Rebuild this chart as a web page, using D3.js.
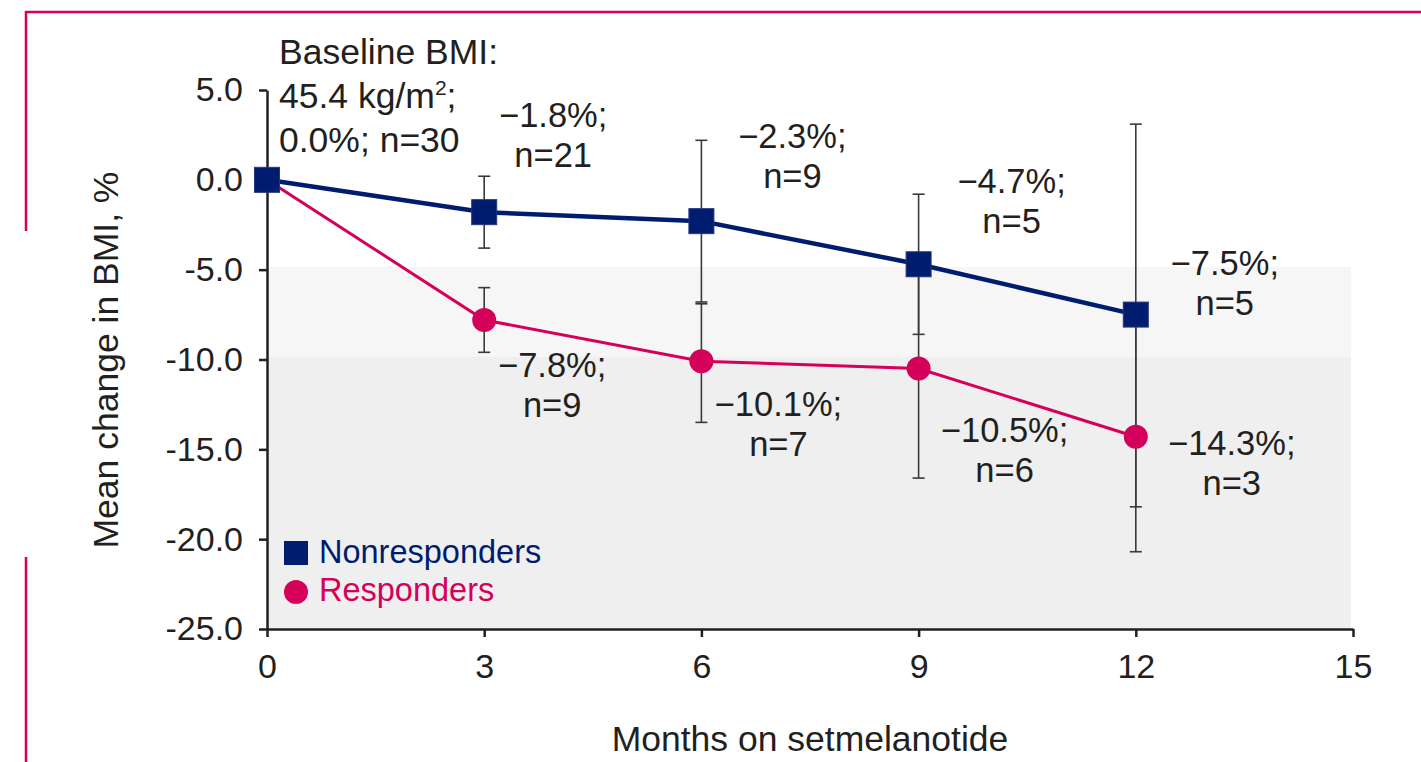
<!DOCTYPE html>
<meta charset="utf-8">
<style>
body { margin: 0; background: #fff; }
svg text { font-family: "Liberation Sans", Arial, Helvetica, sans-serif; fill: #231f20; }
.axis path, .axis line { stroke: #231f20; stroke-width: 2.5; fill: none; }
.axis text { font-size: 34px; }
.err { stroke: #3a3a3a; stroke-width: 1.6; fill: none; }
.lbl { font-size: 34.5px; text-anchor: middle; }
</style>
<body>
<script src="https://cdn.jsdelivr.net/npm/d3@7"></script>
<script>
// data
var months = [0, 3, 6, 9, 12];
var nonresp = [0.0, -1.8, -2.3, -4.7, -7.5];
var nonrespHi = [null, 0.2, 2.2, -0.8, 3.1];
var nonrespLo = [null, -3.8, -6.8, -8.6, -18.2];
var resp = [0.0, -7.8, -10.1, -10.5, -14.3];
var respHi = [null, -6.0, -6.9, -4.4, -7.9];
var respLo = [null, -9.6, -13.5, -16.6, -20.7];
var nonrespN = [30, 21, 9, 5, 5];
var respN = [30, 9, 7, 6, 3];
var yTicks = [5, 0, -5, -10, -15, -20, -25];
var xTicks = [0, 3, 6, 9, 12, 15];
var bandEdges = [-4.85, -9.85, -25];

// label offsets (px) from each point
var nonrespOff = [null, [69, -85], [91, -73], [93, -71], [89, -40]];
var respOff = [null, [68, 57], [77, 55], [86, 74], [96, 18]];

var navy = "#001c6f", pink = "#d5005a";

var W = 1421, H = 762;
var svg = d3.select("body").append("svg")
    .attr("width", W)
    .attr("height", H);

// pink frame lines
svg.append("path")
    .attr("d", "M26,231V12H1421")
    .attr("fill", "none").attr("stroke", pink).attr("stroke-width", 2.5);
svg.append("path")
    .attr("d", "M26,557V762")
    .attr("fill", "none").attr("stroke", pink).attr("stroke-width", 2.5);

var x = d3.scaleLinear().domain([0, 15]).range([267, 1353]);
var y = d3.scaleLinear().domain([-25, 5]).range([629, 90]);

// shaded bands
svg.append("rect")
    .attr("x", x(0)).attr("width", 1351 - x(0))
    .attr("y", y(bandEdges[0])).attr("height", y(bandEdges[1]) - y(bandEdges[0]))
    .attr("fill", "#f6f6f6");
svg.append("rect")
    .attr("x", x(0)).attr("width", 1351 - x(0))
    .attr("y", y(bandEdges[1])).attr("height", y(bandEdges[2]) - y(bandEdges[1]))
    .attr("fill", "#efefef");

// axes
svg.append("g")
    .attr("class", "axis")
    .attr("transform", "translate(0," + y(-25) + ")")
    .call(d3.axisBottom(x).tickValues(xTicks).tickFormat(d3.format("d"))
      .tickSize(8).tickSizeOuter(0).tickPadding(17));
svg.append("g")
    .attr("class", "axis")
    .attr("transform", "translate(" + x(0) + ",0)")
    .call(d3.axisLeft(y).tickValues(yTicks).tickFormat(function(d) { return d.toFixed(1); })
      .tickSize(8).tickSizeOuter(0).tickPadding(16));

// error bars
function errorBars(hi, lo, cls) {
  var idx = months.map(function(d, i) { return i; }).filter(function(i) { return hi[i] !== null; });
  var g = svg.append("g").attr("class", cls);
  idx.forEach(function(i) {
    var cx = x(months[i]);
    g.append("line").attr("class", "err")
      .attr("x1", cx).attr("x2", cx).attr("y1", y(hi[i])).attr("y2", y(lo[i]));
    [hi[i], lo[i]].forEach(function(v) {
      g.append("line").attr("class", "err")
        .attr("x1", cx - 6).attr("x2", cx + 6).attr("y1", y(v)).attr("y2", y(v));
    });
  });
}
errorBars(nonrespHi, nonrespLo, "eb-nr");
errorBars(respHi, respLo, "eb-r");

// lines
var line = d3.line()
    .x(function(d, i) { return x(months[i]); })
    .y(function(d) { return y(d); });
svg.append("path").datum(resp)
    .attr("d", line).attr("fill", "none").attr("stroke", pink).attr("stroke-width", 3);
svg.append("path").datum(nonresp)
    .attr("d", line).attr("fill", "none").attr("stroke", navy).attr("stroke-width", 4.5);

// markers
svg.selectAll(".dot").data(resp.slice(1))
  .enter().append("circle")
    .attr("class", "dot")
    .attr("cx", function(d, i) { return x(months[i + 1]); })
    .attr("cy", function(d) { return y(d); })
    .attr("r", 12)
    .attr("fill", pink);
svg.selectAll(".sq").data(nonresp)
  .enter().append("rect")
    .attr("class", "sq")
    .attr("x", function(d, i) { return x(months[i]) - 12.5; })
    .attr("y", function(d) { return y(d) - 12.5; })
    .attr("width", 25).attr("height", 25)
    .attr("fill", navy).attr("stroke", "#24367f").attr("stroke-width", 1);

// value labels
function fmt(v) { return "\u2212" + Math.abs(v).toFixed(1) + "%;"; }
function labels(vals, ns, off) {
  vals.forEach(function(v, i) {
    if (!off[i]) return;
    var t = svg.append("text").attr("class", "lbl")
        .attr("x", x(months[i]) + off[i][0])
        .attr("y", y(v) + off[i][1]);
    t.append("tspan").attr("x", x(months[i]) + off[i][0]).text(fmt(v));
    t.append("tspan").attr("x", x(months[i]) + off[i][0]).attr("dy", 40).text("n=" + ns[i]);
  });
}
labels(nonresp, nonrespN, nonrespOff);
labels(resp, respN, respOff);

// baseline label
var bl = svg.append("text")
    .attr("x", x(0) + 12).attr("y", y(0) - 116)
    .style("font-size", "35.5px");
bl.append("tspan").attr("x", x(0) + 12).text("Baseline BMI:");
bl.append("tspan").attr("x", x(0) + 12).attr("dy", 44).text("45.4 kg/m");
bl.append("tspan").attr("dy", -13).style("font-size", "21px").text("2");
bl.append("tspan").attr("dy", 13).text(";");
bl.append("tspan").attr("x", x(0) + 12).attr("dy", 44).text(nonresp[0].toFixed(1) + "%; n=" + nonrespN[0]);

// legend
var leg = svg.append("g").attr("transform", "translate(284,541)");
leg.append("rect").attr("width", 24).attr("height", 24).attr("fill", navy);
leg.append("text").attr("x", 35).attr("y", 22)
    .style("font-size", "32.5px").style("fill", navy).text("Nonresponders");
leg.append("circle").attr("cx", 12).attr("cy", 51).attr("r", 12).attr("fill", pink);
leg.append("text").attr("x", 35).attr("y", 60)
    .style("font-size", "32.5px").style("fill", pink).text("Responders");

// axis titles
svg.append("text")
    .attr("transform", "translate(118,360) rotate(-90)")
    .style("text-anchor", "middle").style("font-size", "35.5px")
    .text("Mean change in BMI, %");
svg.append("text")
    .attr("x", 810).attr("y", 751)
    .style("text-anchor", "middle").style("font-size", "35.5px")
    .text("Months on setmelanotide");
</script>
</body>
